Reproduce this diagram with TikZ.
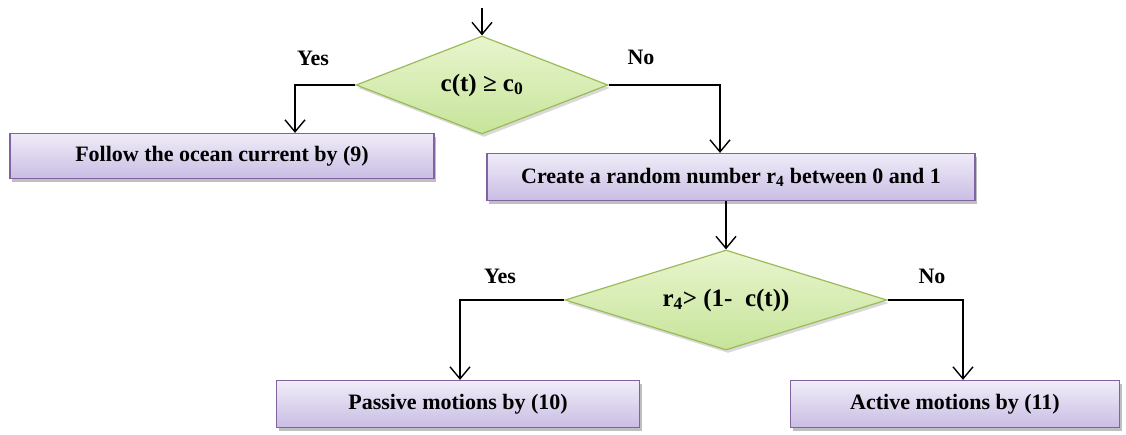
\documentclass[tikz,border=0pt]{standalone}
\usepackage{fontspec}
\setmainfont{Liberation Serif}
\usetikzlibrary{arrows.meta,shapes.geometric,shadows}
\definecolor{boxline}{HTML}{8064A2}
\definecolor{boxtop}{HTML}{F0ECF8}
\definecolor{boxbot}{HTML}{C9BDE4}
\definecolor{dline}{HTML}{9BBB59}
\definecolor{dtop}{HTML}{E9F5CE}
\definecolor{dbot}{HTML}{C6E49A}
\begin{document}
\begin{tikzpicture}[x=1pt,y=-1pt,
  font=\fontsize{22}{25}\selectfont\bfseries,
  procbox/.style={draw=boxline, line width=1.2pt, top color=boxtop, bottom color=boxbot,
    minimum height=45pt, inner sep=0pt, drop shadow={shadow xshift=2pt, shadow yshift=-3pt, opacity=0.5}},
  decbox/.style={diamond, aspect=2.6, draw=dline, line width=1.2pt, top color=dtop, bottom color=dbot,
    inner sep=0pt, font=\fontsize{25}{28}\selectfont\bfseries, drop shadow={shadow xshift=2pt, shadow yshift=-3pt, opacity=0.3}},
  conn/.style={line width=1.4pt, -{Straight Barb[length=12pt,width=20pt,line width=1.4pt]}},
  lbl/.style={font=\fontsize{22}{25}\selectfont\bfseries}
]
\useasboundingbox (0,0) rectangle (1126,434);
% decision 1
\node[decbox, minimum width=252pt, minimum height=98pt] (d1) at (482,85) {c(t) ≥ c\textsubscript{0}};
\coordinate (start) at (482,8);
\draw[conn] (start) -- (d1.north);
% boxes
\node[procbox, minimum width=424pt] (b1) at (222,156) {Follow the ocean current by (9)};
\node[procbox, minimum width=488pt, minimum height=47pt] (b2) at (731,177) {Create a random number r\textsubscript{4} between 0 and 1};
\node[decbox, minimum width=322pt, minimum height=100pt] (d2) at (726,300) {r\textsubscript{4}> (1-\ \ c(t))};
\node[procbox, minimum width=363pt, minimum height=47pt] (b3) at (458,404) {Passive motions by (10)};
\node[procbox, minimum width=329pt, minimum height=47pt] (b4) at (955,404) {Active motions by (11)};
% connectors
\draw[conn] (d1.west) -| (b1.north -| 295,0);
\draw[conn] (d1.east) -| (b2.north -| 720,0);
\draw[conn] (b2.south -| 726,0) -- (d2.north);
\draw[conn] (d2.west) -| (b3.north -| 460,0);
\draw[conn] (d2.east) -| (b4.north -| 963,0);
% labels
\node[lbl] (y1) at (313,58) {Yes};
\node[lbl] (n1) at (641,57) {No};
\node[lbl] (y2) at (500,276) {Yes};
\node[lbl] (n2) at (932,276) {No};
\end{tikzpicture}
\end{document}
